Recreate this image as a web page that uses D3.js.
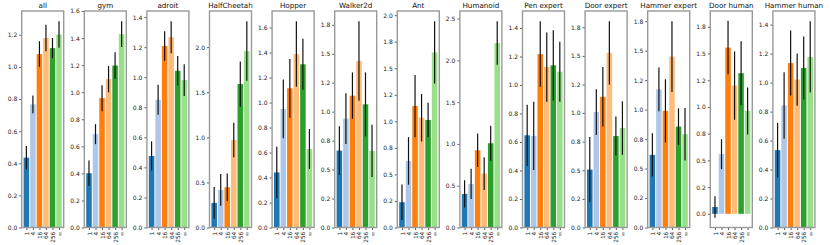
<!DOCTYPE html>
<html>
<head>
<meta charset="utf-8">
<script src="https://cdn.jsdelivr.net/npm/d3@7"></script>
<style>
  body { margin: 0; background: #fff; }
  svg { display: block; font-family: "DejaVu Sans", sans-serif; }
</style>
</head>
<body>
<div id="chart"></div>
<script>
// bar labels and colours (tab20 pairs)
const categories = ["1", "4", "16", "64", "256", "\u221e"];
const barColors = ["#1f77b4", "#aec7e8", "#ff7f0e", "#ffbb78", "#2ca02c", "#98df8a"];

const panelNames = ["all", "gym", "adroit", "HalfCheetah", "Hopper", "Walker2d", "Ant",
    "Humanoid", "Pen expert", "Door expert", "Hammer expert", "Door human", "Hammer human"];

// mean of each bar, one row per panel
const meanVals = [
    [0.435, 0.767, 1.080, 1.180, 1.117, 1.202],
    [0.401, 0.690, 0.956, 1.096, 1.197, 1.429],
    [0.476, 0.850, 1.208, 1.266, 1.043, 0.981],
    [0.273, 0.417, 0.446, 0.970, 1.590, 1.956],
    [0.441, 0.949, 1.114, 1.388, 1.306, 0.628],
    [0.664, 0.940, 1.138, 1.437, 1.063, 0.661],
    [0.238, 0.627, 1.144, 1.034, 1.013, 1.649],
    [0.402, 0.522, 0.924, 0.645, 1.008, 2.207],
    [0.647, 0.643, 1.217, 1.126, 1.138, 1.093],
    [0.506, 1.009, 1.142, 1.526, 0.799, 0.869],
    [0.616, 1.172, 0.989, 1.449, 0.856, 0.791],
    [0.064, 0.559, 1.556, 1.200, 1.316, 0.963],
    [0.534, 0.842, 1.135, 1.021, 1.101, 1.177]
];

// half length of each error bar
const errVals = [
    [0.073, 0.055, 0.080, 0.082, 0.063, 0.082],
    [0.095, 0.074, 0.096, 0.097, 0.098, 0.095],
    [0.097, 0.100, 0.098, 0.106, 0.098, 0.106],
    [0.177, 0.175, 0.153, 0.190, 0.250, 0.330],
    [0.206, 0.235, 0.235, 0.262, 0.204, 0.160],
    [0.210, 0.220, 0.200, 0.343, 0.276, 0.225],
    [0.168, 0.224, 0.293, 0.224, 0.163, 0.293],
    [0.163, 0.180, 0.200, 0.195, 0.210, 0.260],
    [0.215, 0.240, 0.230, 0.243, 0.247, 0.210],
    [0.285, 0.200, 0.260, 0.276, 0.170, 0.234],
    [0.184, 0.185, 0.268, 0.300, 0.155, 0.222],
    [0.100, 0.140, 0.250, 0.320, 0.300, 0.220],
    [0.188, 0.230, 0.224, 0.180, 0.218, 0.246]
];

// y tick spacing used by each panel
const tickSteps = [0.2, 0.2, 0.2, 0.5, 0.2, 0.25, 0.25, 0.5, 0.2, 0.25, 0.25, 0.25, 0.2];

const width = 830, height = 245;
const axTop = 11, axBot = 227.5, axW = 42;
const firstLeft = 21.7, panelStep = 62.6;
const barW = 0.85;

// "%.1f" with round-half-even, like python does for 0.25, 0.75 ...
function fmt1(v) {
    let s = v * 10;
    let r = Math.round(s);
    if (Math.abs(s - Math.trunc(s)) > 0.4999 && Math.abs(s - Math.trunc(s)) < 0.5001) {
        let f = Math.floor(s);
        r = (f % 2 === 0) ? f : f + 1;
    }
    let out = (r / 10).toFixed(1);
    return out === "-0.0" ? "0.0" : out;
}

const svg = d3.select("#chart").append("svg")
    .attr("width", width)
    .attr("height", height);

panelNames.forEach((name, i) => {
    const means = meanVals[i], errs = errVals[i];
    const left = firstLeft + panelStep * i;

    // limits like matplotlib autoscale (bars stick to 0)
    let lo = Math.min(0, d3.min(means.map((m, k) => m - errs[k])));
    let hi = d3.max(means.map((m, k) => m + errs[k]));
    let span = hi - lo;
    if (lo < 0) lo -= 0.05 * span;
    hi += 0.05 * span;

    const y = d3.scaleLinear().domain([lo, hi]).range([axBot, axTop]);
    const xLo = -barW / 2, xHi = categories.length - 1 + barW / 2;
    const xm = 0.05 * (xHi - xLo);
    const x = d3.scaleLinear().domain([xLo - xm, xHi + xm]).range([left, left + axW]);

    const g = svg.append("g");

    // bars
    g.selectAll("rect.bar")
        .data(means)
        .enter().append("rect")
            .attr("class", "bar")
            .attr("x", (d, k) => x(k - barW / 2))
            .attr("width", x(barW) - x(0))
            .attr("y", d => y(Math.max(0, d)))
            .attr("height", d => Math.abs(y(0) - y(d)))
            .attr("fill", (d, k) => barColors[k]);

    // error bars
    g.selectAll("line.err")
        .data(means)
        .enter().append("line")
            .attr("class", "err")
            .attr("x1", (d, k) => x(k))
            .attr("x2", (d, k) => x(k))
            .attr("y1", (d, k) => y(d - errs[k]))
            .attr("y2", (d, k) => y(d + errs[k]))
            .attr("stroke", "#111")
            .attr("stroke-width", 1.2);

    // y axis
    const step = tickSteps[i];
    const ticks = d3.range(Math.ceil(lo / step - 1e-9), Math.floor(hi / step + 1e-9) + 1).map(k => k * step);
    const yAxis = g.append("g")
        .attr("transform", `translate(${left},0)`)
        .call(d3.axisLeft(y).tickValues(ticks).tickFormat(fmt1).tickSize(2.5).tickPadding(2));
    yAxis.select(".domain").remove();
    yAxis.selectAll(".tick line").attr("stroke", "#333").attr("stroke-width", 0.8);
    yAxis.selectAll(".tick text").style("font-size", "6px").attr("fill", "#222")
        .style("font-family", "DejaVu Sans");

    // x axis, labels turned up
    const xAxis = g.append("g")
        .attr("transform", `translate(0,${axBot})`)
        .call(d3.axisBottom(x).tickValues(d3.range(categories.length))
            .tickFormat(k => categories[k]).tickSize(2.5));
    xAxis.select(".domain").remove();
    xAxis.selectAll(".tick line").attr("stroke", "#333").attr("stroke-width", 0.8);
    xAxis.selectAll(".tick text")
        .style("font-size", "5.8px").attr("fill", "#222")
        .style("font-family", "DejaVu Sans")
        .attr("text-anchor", "end")
        .attr("y", 0).attr("dy", "0.35em")
        .attr("transform", "translate(0,4.2) rotate(-90)");

    // frame
    g.append("rect")
        .attr("x", left).attr("y", axTop)
        .attr("width", axW).attr("height", axBot - axTop)
        .attr("fill", "none")
        .attr("stroke", "#999")
        .attr("stroke-width", 1.4);

    // title
    g.append("text")
        .attr("x", left + axW / 2)
        .attr("y", 7.6)
        .attr("text-anchor", "middle")
        .style("font-size", "7.2px")
        .attr("fill", "#111")
        .text(name);
});
</script>
</body>
</html>
